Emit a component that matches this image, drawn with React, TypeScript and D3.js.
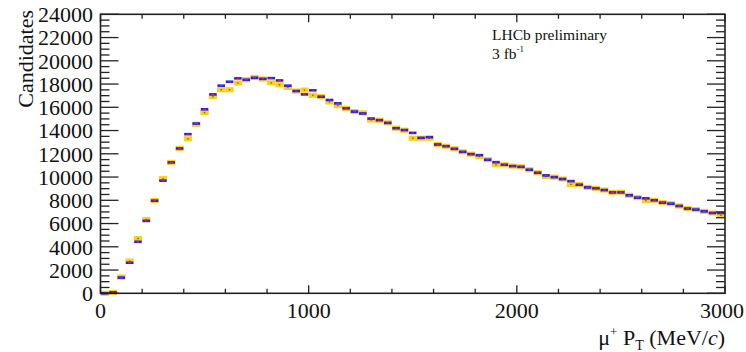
import React from "react";
import * as d3 from "d3";

const binWidth = 40;
const blueValues = [
  0, 80, 1350, 2630, 4430, 6230, 7970, 9690, 11260, 12460,
  13690, 14600, 15830, 17110, 17860, 18200, 18490, 18370, 18540, 18450,
  18510, 18310, 17860, 17400, 17110, 17460, 16910, 16630, 16340, 15910,
  15630, 15470, 15030, 14890, 14660, 14200, 14040, 13800, 13370, 13430,
  12800, 12650, 12430, 12170, 11970, 11880, 11490, 11280, 11060, 10940,
  10880, 10630, 10370, 10140, 9990, 9830, 9650, 9340, 9110, 9030,
  8880, 8680, 8680, 8430, 8230, 8170, 8000, 7800, 7710, 7510,
  7290, 7200, 7050, 6910, 6910,
];
const yellowValues = [
  0, 80, 1400, 2770, 4710, 6340, 7970, 9860, 11260, 12460,
  13290, 14540, 15540, 16910, 17510, 17510, 18090, 18370, 18570, 18430,
  18110, 17940, 17710, 17400, 17480, 17030, 16910, 16460, 16140, 15910,
  15630, 15520, 14910, 14890, 14660, 14200, 14030, 13340, 13340, 13340,
  12800, 12650, 12430, 12170, 11970, 11770, 11490, 11060, 11060, 10940,
  10880, 10630, 10370, 10050, 9990, 9830, 9370, 9340, 9110, 9030,
  8880, 8680, 8700, 8430, 8230, 7970, 8000, 7800, 7710, 7510,
  7290, 7200, 7050, 6910, 6710,
];
const yTickValues = [0, 2000, 4000, 6000, 8000, 10000, 12000, 14000, 16000, 18000, 20000, 22000, 24000];
const xTickValues = [0, 1000, 2000, 3000];

const W = 746;
const H = 352;
const serif = "'Liberation Serif', 'DejaVu Serif', serif";

export default function App() {
  const x = d3.scaleLinear().domain([0, 3000]).range([100.5, 725]);
  const y = d3.scaleLinear().domain([0, 24000]).range([293.3, 14.3]);
  const [x0, x1] = x.range();
  const [yb, yt] = y.range();

  const yMinor = d3.range(0, 24001, 500).filter((v) => v % 2000 !== 0);
  const xMinor = d3.range(0, 3001, 200).filter((v) => v % 1000 !== 0);
  const bw = x(binWidth) - x(0);

  return (
    <svg width={W} height={H} style={{ position: "absolute", left: 0, top: 0, background: "#fff" }}>
      {/* markers */}
      {yellowValues.map((v, i) => {
        const cx = x(binWidth * i + binWidth / 2);
        return (
          <g key={"y" + i}>
            <rect x={cx - bw / 2} y={y(v) - 2.6} width={bw} height={5.2} fill="#f7cc00" opacity={0.9} />
            <rect x={cx - 0.7} y={y(v) - 0.7} width={1.4} height={1.4} fill="#666" />
          </g>
        );
      })}
      {blueValues.map((v, i) => {
        const cx = x(binWidth * i + binWidth / 2);
        return (
          <g key={"b" + i}>
            <rect x={cx - bw / 2 + 0.4} y={y(v) - 1.3} width={bw - 0.8} height={2.6} fill="#2a1ee6" />
            <rect x={cx - 1.5} y={y(v) - 0.6} width={3} height={1.2} fill="#d0206a" />
          </g>
        );
      })}

      {/* frame */}
      <rect x={x0} y={yt} width={x1 - x0} height={yb - yt} fill="none" stroke="#222" strokeWidth={1.6} />

      {/* y ticks left and right */}
      {yTickValues.map((v) => (
        <g key={"yt" + v}>
          <line x1={x0} x2={x0 + 18} y1={y(v)} y2={y(v)} stroke="#222" strokeWidth={1.3} />
          <line x1={x1} x2={x1 - 18} y1={y(v)} y2={y(v)} stroke="#222" strokeWidth={1.3} />
          <text x={93} y={y(v)} dy="0.35em" textAnchor="end" fontFamily={serif} fontSize={22} fill="#111">
            {v}
          </text>
        </g>
      ))}
      {yMinor.map((v) => (
        <g key={"ym" + v}>
          <line x1={x0} x2={x0 + 9} y1={y(v)} y2={y(v)} stroke="#222" strokeWidth={1.3} />
          <line x1={x1} x2={x1 - 9} y1={y(v)} y2={y(v)} stroke="#222" strokeWidth={1.3} />
        </g>
      ))}

      {/* x ticks bottom and top */}
      {xTickValues.map((v) => (
        <g key={"xt" + v}>
          <line x1={x(v)} x2={x(v)} y1={yb} y2={yb - 8} stroke="#222" strokeWidth={1.3} />
          <line x1={x(v)} x2={x(v)} y1={yt} y2={yt + 8} stroke="#222" strokeWidth={1.3} />
          <text x={x(v) - (v === 3000 ? 3 : 0)} y={318} textAnchor="middle" fontFamily={serif} fontSize={22} fill="#111">
            {v}
          </text>
        </g>
      ))}
      {xMinor.map((v) => (
        <g key={"xm" + v}>
          <line x1={x(v)} x2={x(v)} y1={yb} y2={yb - 4.5} stroke="#222" strokeWidth={1.3} />
          <line x1={x(v)} x2={x(v)} y1={yt} y2={yt + 4.5} stroke="#222" strokeWidth={1.3} />
        </g>
      ))}

      {/* axis titles */}
      <text transform="translate(33,10) rotate(-90)" textAnchor="end" fontFamily={serif} fontSize={22} fill="#111">
        Candidates
      </text>
      <text x={725} y={345} textAnchor="end" fontFamily={serif} fontSize={22} fill="#111">
        μ<tspan fontSize={13} dy={-9}>+</tspan>
        <tspan dy={9}> P</tspan>
        <tspan fontSize={14} dy={5}>T</tspan>
        <tspan dy={-5}> (MeV/</tspan>
        <tspan fontStyle="italic">c</tspan>
        <tspan>)</tspan>
      </text>

      {/* label */}
      <text x={492} y={40} fontFamily={serif} fontSize={15.5} fill="#111">
        LHCb preliminary
      </text>
      <text x={492} y={59} fontFamily={serif} fontSize={15.5} fill="#111">
        3 fb<tspan fontSize={9} dy={-7}>-1</tspan>
      </text>
    </svg>
  );
}
